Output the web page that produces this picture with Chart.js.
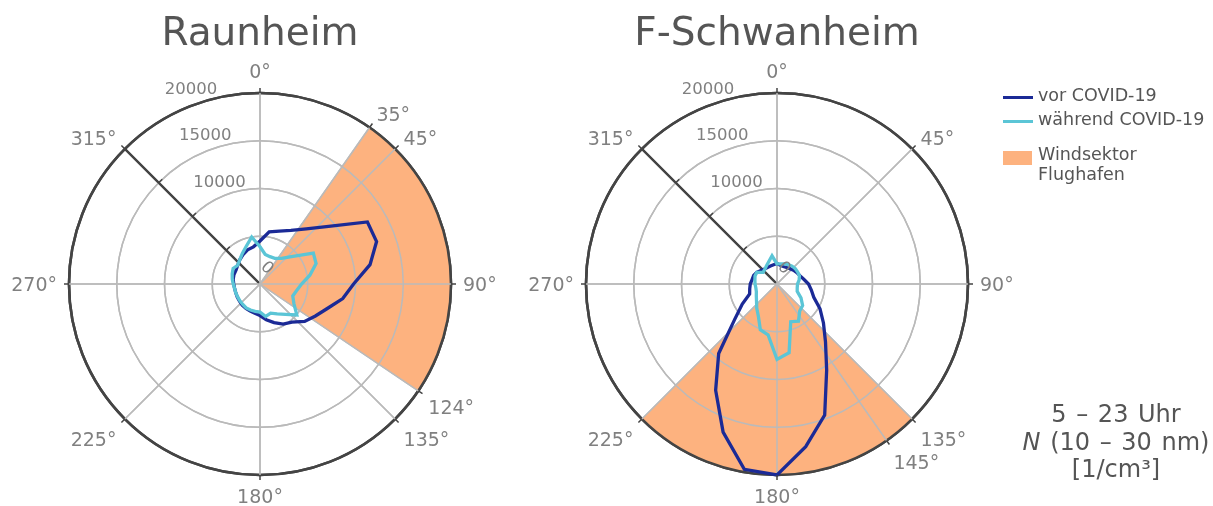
<!DOCTYPE html>
<html lang="de">
<head>
<meta charset="utf-8">
<title>Raunheim / F-Schwanheim</title>
<script src="https://cdn.jsdelivr.net/npm/chart.js@4.4.1/dist/chart.umd.min.js"></script>
<style>
    html, body { margin: 0; padding: 0; background: #fff; }
    #page { position: relative; width: 1213px; height: 506px; overflow: hidden; font-family: "DejaVu Sans", Verdana, sans-serif; color: #555; }
    canvas { position: absolute; top: 0; }
    .title { position: absolute; top: 9px; width: 520px; text-align: center; font-size: 39px; line-height: 46px; color: #555; }
    .legend-item { position: absolute; left: 1038px; font-size: 17.5px; line-height: 19.5px; white-space: nowrap; color: #555; }
    .swatch-line { position: absolute; left: 1003px; width: 30px; height: 3px; }
    .swatch-box { position: absolute; left: 1003px; top: 151px; width: 29px; height: 14px; background: #FDB27F; }
    .note { position: absolute; left: 1000px; width: 232px; text-align: center; font-size: 24px; line-height: 27px; word-spacing: 2px; white-space: nowrap; color: #555; }
</style>
</head>
<body>
<div id="page">
    <canvas id="raunheimChart" width="520" height="506" style="left:0px"></canvas>
    <canvas id="schwanheimChart" width="520" height="506" style="left:517px"></canvas>

    <div class="title" style="left:0px">Raunheim</div>
    <div class="title" style="left:517px">F-Schwanheim</div>

    <div class="swatch-line" style="top:96px; background:#1B2A96"></div>
    <div class="legend-item" style="top:86px">vor COVID-19</div>
    <div class="swatch-line" style="top:120px; background:#5BC5D6"></div>
    <div class="legend-item" style="top:110px">während COVID-19</div>
    <div class="swatch-box"></div>
    <div class="legend-item" style="top:145px">Windsektor<br>Flughafen</div>

    <div class="note" style="top:401px">5 – 23 Uhr</div>
    <div class="note" style="top:429px"><i>N</i> (10 – 30 nm)</div>
    <div class="note" style="top:456px">[1/cm³]</div>
</div>

<script>
// wind directions of the data points (degrees, clockwise from north)
const dataAngles = [0, 10, 20, 30, 40, 50, 60, 70, 80, 90, 100, 110, 120, 130, 140, 150, 160, 170,
    180, 190, 200, 210, 220, 230, 240, 250, 260, 270, 280, 290, 300, 310, 320, 330, 340, 350];

// Raunheim, N (10-30 nm) in 1/cm3
const raunheimVor = [4500, 5550, 5900, 6480, 7540, 9370, 12990, 12990, 11700, 9800, 8800, 7500,
    6700, 6100, 5200, 4850, 4300, 3800, 3300, 3100, 3000, 2950, 2900, 2800,
    2750, 2700, 2700, 2750, 2850, 2900, 2900, 3050, 3300, 3550, 3800, 3950];
const raunheimWaehrend = [3900, 3150, 3050, 3100, 3500, 4500, 6450, 6250, 5300, 4350, 3900, 3650,
    4100, 5030, 4140, 3600, 3250, 3450, 2950, 2900, 2900, 2900, 2800, 2750,
    2700, 2700, 2700, 2800, 2950, 3100, 3250, 3050, 3300, 3700, 4200, 5000];

// F-Schwanheim
const schwanheimVor = [2150, 2000, 1950, 2000, 2100, 2250, 2400, 2550, 2850, 3300, 3650, 4100,
    5200, 6350, 7900, 10400, 14600, 17300, 20000, 19700, 16500, 12850, 9500, 5800,
    4200, 3050, 2900, 2800, 2650, 2600, 2450, 2200, 2050, 2000, 2000, 2050];
const schwanheimWaehrend = [2100, 2150, 2250, 2350, 2450, 2500, 2500, 2500, 2350, 2150, 2150, 2250,
    2900, 3500, 3700, 4500, 4200, 7300, 7900, 5400, 5100, 3900, 3300, 2800,
    2500, 2300, 2250, 2300, 2350, 2450, 2450, 1900, 2000, 2200, 2500, 3000];

// wind sector of the airport [from, to]
const raunheimSector = [35, 124];
const schwanheimSector = [135, 225];

// angular tick labels
const raunheimAngleTicks = [0, 35, 45, 90, 124, 135, 180, 225, 270, 315];
const schwanheimAngleTicks = [0, 45, 90, 135, 145, 180, 225, 270, 315];

// radial axis
const radialMax = 20000;
const radialStep = 5000;
const radialTickLabels = [0, 10000, 15000, 20000];
const radialAxisAngle = 315;

const colorVor = "#1B2A96";
const colorWaehrend = "#5BC5D6";
const colorSector = "#FDB27F";
const gridGrey = "#bababa";
const axisDark = "#444444";
const labelGrey = "#808080";
const fontFamily = '"DejaVu Sans", Verdana, sans-serif';

Chart.defaults.font.family = fontFamily;

// one label per degree, so every direction maps onto its own index
const degreeLabels = Array.from({ length: 360 }, (_, i) => i);

function spreadOverDegrees(values) {
    const out = degreeLabels.map(() => null);
    dataAngles.forEach((deg, i) => { out[deg] = values[i]; });
    return out;
}

function sectorValues(sector) {
    return degreeLabels.map(deg => (deg >= sector[0] && deg <= sector[1]) ? radialMax : 0);
}

const polarDecor = {
    id: "polarDecor",
    afterDatasetDraw(chart, args) {
        // grid stays visible on top of the sector fill
        if (args.index === 2) {
            chart.scales.r.drawGrid();
        }
    },
    afterDraw(chart, args, opts) {
        const scale = chart.scales.r;
        const ctx = chart.ctx;
        const R = scale.drawingArea;
        ctx.save();

        ctx.strokeStyle = axisDark;
        ctx.lineWidth = 1.5;
        ctx.beginPath();
        opts.angleTicks.forEach(deg => {
            const p1 = scale.getPointPosition(deg, R);
            const p2 = scale.getPointPosition(deg, R + 5);
            ctx.moveTo(p1.x, p1.y);
            ctx.lineTo(p2.x, p2.y);
        });
        for (let v = radialStep; v < radialMax; v += radialStep) {
            const p = scale.getPointPosition(radialAxisAngle, scale.getDistanceFromCenterForValue(v));
            const q = scale.getPointPosition(radialAxisAngle + 90, 5);
            ctx.moveTo(p.x, p.y);
            ctx.lineTo(p.x + q.x - scale.xCenter, p.y + q.y - scale.yCenter);
        }
        ctx.stroke();

        ctx.fillStyle = labelGrey;
        ctx.font = "19px " + fontFamily;
        ctx.textBaseline = "alphabetic";
        opts.angleTicks.forEach(deg => {
            const a = deg * Math.PI / 180;
            const s = Math.sin(a), c = Math.cos(a);
            const p = scale.getPointPosition(deg, R + 12);
            const yMid = p.y - 9.5 * c + 4.5 * Math.pow(Math.sin(2 * a), 2);
            ctx.textAlign = s > 0.1 ? "left" : (s < -0.1 ? "right" : "center");
            ctx.fillText(deg + "°", p.x, yMid + 6.9);
        });

        ctx.font = "16.5px " + fontFamily;
        ctx.textAlign = "center";
        radialTickLabels.forEach(v => {
            if (v === 0) {
                ctx.save();
                ctx.translate(scale.xCenter + 8, scale.yCenter - 17);
                ctx.rotate(Math.PI / 4);
                ctx.fillText("0", 0, 6);
                ctx.restore();
                return;
            }
            const d = scale.getDistanceFromCenterForValue(v);
            ctx.fillText(String(v), scale.xCenter - 12 - 0.298 * d, scale.yCenter - 8.9 - 0.982 * d + 6);
        });
        ctx.restore();
    }
};

function drawPolarChart(canvasId, vor, waehrend, sector, angleTicks) {
    const ctx = document.getElementById(canvasId).getContext("2d");

    new Chart(ctx, {
        type: "radar",
        data: {
            labels: degreeLabels,
            datasets: [{
                label: "vor COVID-19",
                data: spreadOverDegrees(vor),
                borderColor: colorVor,
                borderWidth: 3.3,
                fill: false,
                spanGaps: true,
                order: 2
            }, {
                label: "während COVID-19",
                data: spreadOverDegrees(waehrend),
                borderColor: colorWaehrend,
                borderWidth: 3.3,
                fill: false,
                spanGaps: true,
                order: 1
            }, {
                label: "Windsektor Flughafen",
                data: sectorValues(sector),
                borderColor: "rgba(0,0,0,0)",
                borderWidth: 1,
                backgroundColor: colorSector,
                fill: true,
                order: 3
            }]
        },
        options: {
            responsive: false,
            animation: false,
            events: [],
            layout: { padding: { left: 69, top: 93, right: 69, bottom: 31 } },
            elements: {
                point: { radius: 0 },
                line: { tension: 0 }
            },
            scales: {
                r: {
                    min: 0,
                    max: radialMax,
                    startAngle: 0,
                    ticks: { display: false, stepSize: radialStep },
                    pointLabels: { display: false },
                    grid: {
                        circular: true,
                        color: (c) => c.tick && c.tick.value === radialMax ? axisDark : gridGrey,
                        lineWidth: (c) => c.tick && c.tick.value === radialMax ? 2.6 : 1.5
                    },
                    angleLines: {
                        color: (c) => c.index === radialAxisAngle ? axisDark : gridGrey,
                        lineWidth: (c) => c.index === radialAxisAngle ? 2.2 : (angleTicks.includes(c.index) ? 1.5 : 0)
                    }
                }
            },
            plugins: {
                legend: { display: false },
                tooltip: { enabled: false },
                polarDecor: { angleTicks: angleTicks }
            }
        },
        plugins: [polarDecor]
    });
}

drawPolarChart("raunheimChart", raunheimVor, raunheimWaehrend, raunheimSector, raunheimAngleTicks);
drawPolarChart("schwanheimChart", schwanheimVor, schwanheimWaehrend, schwanheimSector, schwanheimAngleTicks);
</script>
</body>
</html>
